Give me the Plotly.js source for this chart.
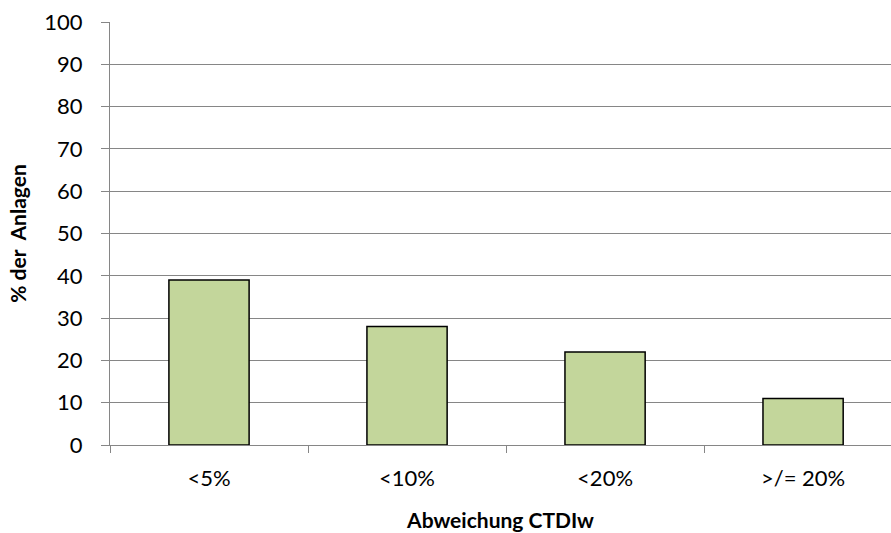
<!DOCTYPE html>
<html>
<head>
<meta charset="utf-8">
<script src="https://cdn.plot.ly/plotly-3.0.1.min.js"></script>
<style>html,body{margin:0;padding:0;background:#fff;}#chart{width:891px;height:533px;}</style>
</head>
<body>
<div id="chart"></div>
<script>
// Abweichung CTDIw – Anteil der Anlagen je Klasse
const categories = ['<5%', '<10%', '<20%', '>/= 20%'];
const percentValues = [39, 28, 22, 11];
const yTicks = [0, 10, 20, 30, 40, 50, 60, 70, 80, 90, 100];

const fontFamily = 'Lato, "Open Sans", "Liberation Sans", sans-serif';

const trace = {
  type: 'bar',
  x: categories,
  y: percentValues,
  width: 0.405,
  marker: { color: '#c3d69b', line: { color: '#000000', width: 1.5 } },
  hoverinfo: 'x+y'
};

const layout = {
  width: 891,
  height: 533,
  margin: { l: 110, r: 0, t: 22, b: 88 },
  paper_bgcolor: '#ffffff',
  plot_bgcolor: '#ffffff',
  showlegend: false,
  font: { family: fontFamily, color: '#000000', size: 22 },
  xaxis: {
    type: 'category',
    range: [-0.5, 3.444],
    showgrid: false,
    zeroline: false,
    showline: true,
    linecolor: '#868686',
    linewidth: 1,
    ticks: 'outside',
    tickson: 'boundaries',
    ticklen: 7,
    tickcolor: '#868686',
    tickwidth: 1,
    ticklabelstandoff: 14,
    tickfont: { family: fontFamily, size: 22 },
    title: { text: '<b>Abweichung CTDIw</b>', font: { family: fontFamily, size: 21 }, standoff: 22 }
  },
  yaxis: {
    range: [0, 100],
    tickvals: yTicks,
    showgrid: true,
    gridcolor: '#868686',
    gridwidth: 1,
    zeroline: false,
    showline: true,
    linecolor: '#868686',
    linewidth: 1,
    ticks: 'outside',
    ticklen: 8,
    tickcolor: '#868686',
    tickwidth: 1,
    ticklabelstandoff: 14,
    tickfont: { family: fontFamily, size: 22 },
    title: { text: '<b>% der&nbsp; Anlagen</b>', font: { family: fontFamily, size: 21 }, standoff: 11 }
  },
  bargap: 0.6
};

Plotly.newPlot('chart', [trace], layout, { displayModeBar: false, staticPlot: true });
</script>
</body>
</html>
